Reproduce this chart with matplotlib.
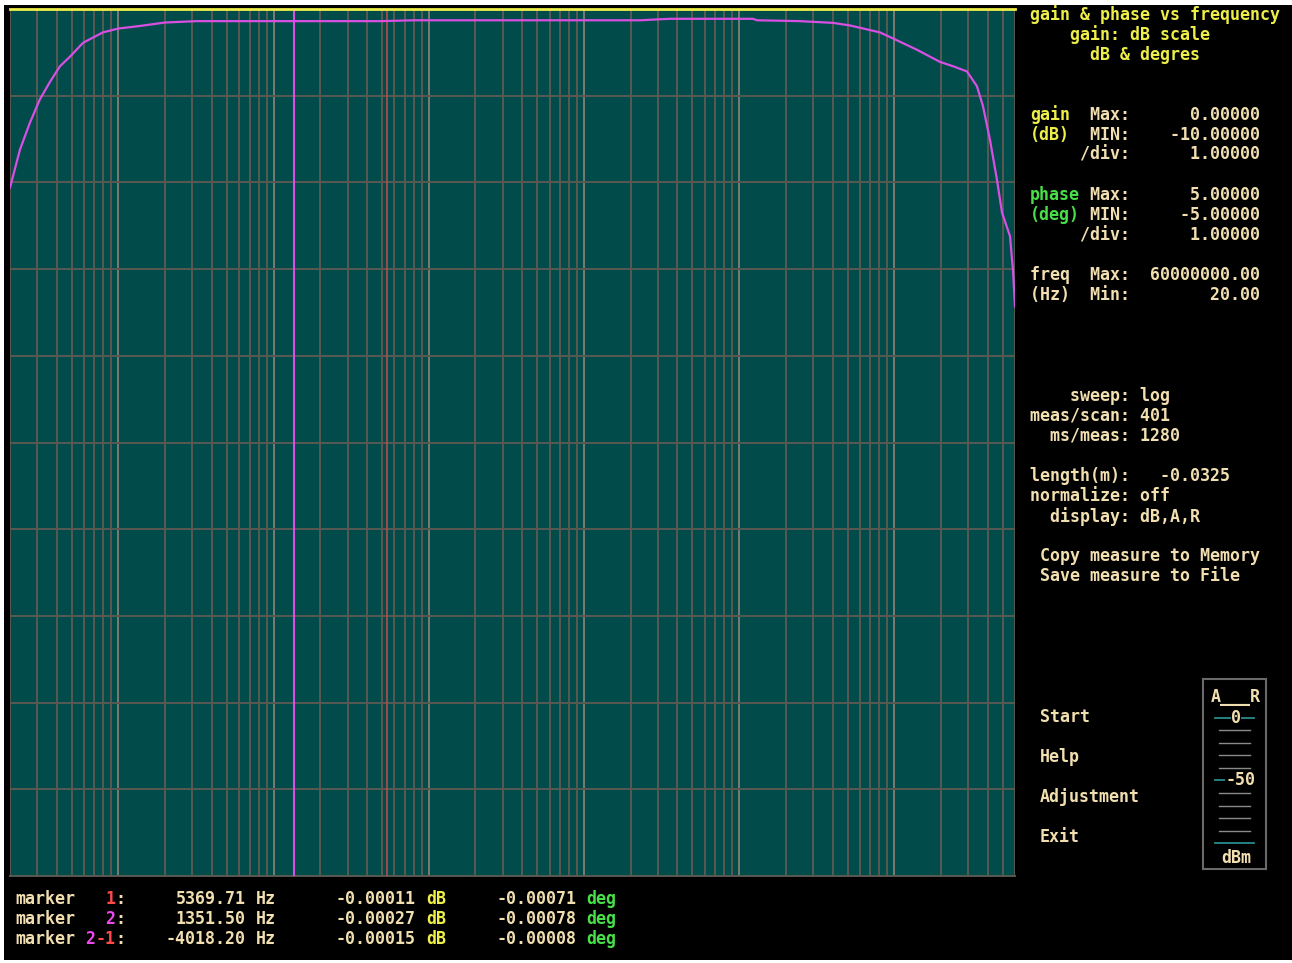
import matplotlib
matplotlib.use("Agg")
import matplotlib.pyplot as plt
from matplotlib.ticker import LogLocator, NullFormatter, FixedLocator

W, H = 1292, 963

# Sweep limits
F_MIN, F_MAX = 20.0, 60e6
GAIN_MAX, GAIN_MIN = 0.0, -10.0
GAIN_DIV = [-1, -2, -3, -4, -5, -6, -7, -8, -9]

# Measured gain response (Hz, dB)
freq_hz = [20, 23.2, 26.9, 31.2, 36.2, 42.0, 48.7, 59.1, 79.3, 100, 131.8, 199.5,
           320, 5000, 8000, 229600, 359000, 1230000, 1300000, 2460000, 4030000,
           5190000, 8090000, 10100000, 14000000, 19700000, 23900000, 29400000,
           34100000, 37300000, 41400000, 45900000, 49500000, 55700000, 57400000,
           58200000, 60000000]
gain_db = [-2.06, -1.62, -1.31, -1.04, -0.84, -0.66, -0.55, -0.39, -0.27, -0.225, -0.20, -0.156,
           -0.14, -0.14, -0.13, -0.13, -0.113, -0.113, -0.13, -0.14, -0.16,
           -0.19, -0.27, -0.35, -0.47, -0.61, -0.66, -0.72,
           -0.89, -1.12, -1.51, -1.97, -2.35, -2.62, -2.89,
           -3.0, -3.43]

# Reference (0 dB) gain trace
ref_freq_hz = [20, 60e6]
ref_gain_db = [0.0, 0.0]

# Markers
marker1_hz = 5369.71
marker2_hz = 1351.50

# Level meter (dBm)
meter_levels = [0, -10, -20, -30, -40, -50, -60, -70, -80, -90, -100]
meter_major = [0, -50, -100]
meter_labels = {0: "0", -50: "-50"}

TEAL = "#014b4b"
GRID = "#585a52"
GRID_DEC = "#7c7c72"
CREAM = "#f2dfb0"
YELLOW = "#eeee48"
GREEN = "#48e048"
RED = "#ff4a4a"
MAGENTA = "#ee48ee"
TRACE = "#d84fe2"

FONT = dict(family="DejaVu Sans Mono", fontsize=12, fontweight="bold")


def fx(px):
    return px / W


def fy(py):
    return 1 - py / H


fig = plt.figure(figsize=(W / 100, H / 100), dpi=100, facecolor="white")

# Black screen
screen = fig.add_axes([fx(4), fy(960), fx(W - 4), (960 - 5) / H])
screen.set_facecolor("black")
screen.set_xticks([])
screen.set_yticks([])
for s in screen.spines.values():
    s.set_visible(False)

# Main plot area
ax = fig.add_axes([fx(10), fy(876), fx(1005), 867 / H])
ax.set_facecolor(TEAL)
ax.set_xscale("log")
ax.set_xlim(F_MIN, F_MAX)
ax.set_ylim(GAIN_MIN, GAIN_MAX)
ax.xaxis.set_major_locator(LogLocator(base=10, numticks=20))
ax.xaxis.set_minor_locator(LogLocator(base=10, subs=[2, 3, 4, 5, 6, 7, 8, 9], numticks=200))
ax.xaxis.set_minor_formatter(NullFormatter())
ax.yaxis.set_major_locator(FixedLocator(GAIN_DIV))
ax.grid(which="minor", axis="x", color=GRID, lw=1.4)
ax.grid(which="major", axis="x", color=GRID_DEC, lw=1.4)
ax.grid(which="major", axis="y", color=GRID, lw=1.4)
ax.tick_params(which="both", length=0, labelbottom=False, labelleft=False)
for name, s in ax.spines.items():
    s.set_visible(name == "bottom")
ax.spines["bottom"].set_color(GRID)
ax.spines["bottom"].set_linewidth(1.4)

ax.axvline(marker1_hz, color="#b84a4a", lw=1.2, zorder=3)
ax.axvline(marker2_hz, color=TRACE, lw=1.5, zorder=3)
ax.plot(ref_freq_hz, ref_gain_db, color=YELLOW, lw=2.0, zorder=4, clip_on=False)
ax.plot(freq_hz, gain_db, color=TRACE, lw=1.6, zorder=5)


# Right-hand panel text on a character grid
def put(col, row, text, color=CREAM):
    fig.text(fx(1030 + 10.03 * col), fy(14.5 + 20.07 * row), text, color=color,
             ha="left", va="center", **FONT)


put(0, 0, "gain & phase vs frequency", YELLOW)
put(4, 1, "gain: dB scale", YELLOW)
put(6, 2, "dB & degres", YELLOW)

put(0, 5, "gain", YELLOW)
put(6, 5, "Max:      0.00000")
put(0, 6, "(dB)", YELLOW)
put(6, 6, "MIN:    -10.00000")
put(5, 7, "/div:      1.00000")

put(0, 9, "phase", GREEN)
put(6, 9, "Max:      5.00000")
put(0, 10, "(deg)", GREEN)
put(6, 10, "MIN:     -5.00000")
put(5, 11, "/div:      1.00000")

put(0, 13, "freq  Max:  60000000.00")
put(0, 14, "(Hz)  Min:        20.00")

put(0, 19, "    sweep: log")
put(0, 20, "meas/scan: 401")
put(0, 21, "  ms/meas: 1280")

put(0, 23, "length(m):   -0.0325")
put(0, 24, "normalize: off")
put(0, 25, "  display: dB,A,R")

put(1, 27, "Copy measure to Memory")
put(1, 28, "Save measure to File")

put(1, 35, "Start")
put(1, 37, "Help")
put(1, 39, "Adjustment")
put(1, 41, "Exit")


# Marker readout at the bottom
def put_b(col, row, text, color=CREAM):
    fig.text(fx(15 + 10.03 * col), fy(898.5 + 20 * row), text, color=color,
             ha="left", va="center", **FONT)


rows = [
    ("1", RED, None, "5369.71", "-0.00011", "-0.00071"),
    ("2", MAGENTA, None, "1351.50", "-0.00027", "-0.00078"),
    ("2", MAGENTA, "-1", "-4018.20", "-0.00015", "-0.00008"),
]
for r, (lab, col, extra, hz, db, deg) in enumerate(rows):
    put_b(0, r, "marker")
    if extra is None:
        put_b(9, r, lab, col)
    else:
        put_b(7, r, lab, col)
        put_b(8, r, extra, RED)
    put_b(10, r, ":")
    put_b(24 - len(hz) - 1, r, hz)
    put_b(24, r, "Hz")
    put_b(40 - len(db), r, db)
    put_b(41, r, "dB", YELLOW)
    put_b(56 - len(deg), r, deg)
    put_b(57, r, "deg", GREEN)

# A / R level meter
mx = fig.add_axes([fx(1203), fy(869), fx(63), 190 / H])
mx.set_facecolor("black")
mx.set_xlim(0, 63)
mx.set_ylim(-120.5, 30.8)
mx.set_xticks([])
mx.set_yticks([])
for s in mx.spines.values():
    s.set_color("#6a6a6a")
    s.set_linewidth(1.5)
for lvl in meter_levels:
    if lvl in meter_major:
        mx.plot([12, 51], [lvl, lvl], color="#2a8c8c", lw=1.3, zorder=2)
    else:
        mx.plot([16, 47], [lvl, lvl], color="#8a8a8a", lw=1.0, zorder=2)
for lvl, txt in meter_labels.items():
    mx.text(33 if lvl == 0 else 37, lvl, txt, color=CREAM, ha="center", va="center",
            zorder=3, bbox=dict(facecolor="black", edgecolor="none", pad=0.3), **FONT)
mx.text(33, 16.5, "A___R", color=CREAM, ha="center", va="center", **FONT)
mx.text(33, -111.7, "dBm", color=CREAM, ha="center", va="center", **FONT)

fig.savefig("out.png", dpi=100, facecolor="white")
